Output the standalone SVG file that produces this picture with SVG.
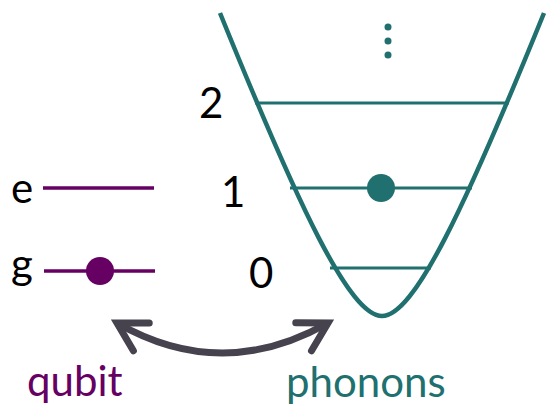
<svg xmlns="http://www.w3.org/2000/svg" width="546" height="405" viewBox="0 0 546 405">
<style>
text{font-family:Lato,"Open Sans","DejaVu Sans",sans-serif;font-size:42px}
.blk{fill:#000}
.pur{fill:#660062}
.tea{fill:#20706F}
.ql{stroke:#660062;stroke-width:3.5;fill:none}
.lv{stroke:#20706F;stroke-width:3;fill:none}
</style>
<defs>
<marker id="chev" markerUnits="userSpaceOnUse" markerWidth="60" markerHeight="60" viewBox="-40 -30 60 60" refX="0" refY="0" orient="auto-start-reverse" overflow="visible">
<path d="M-28,-16 L0,0 L-28,16" fill="none" stroke="#46434F" stroke-width="7" stroke-linecap="round" stroke-linejoin="miter"/>
</marker>
</defs>
<g id="qubit">
<text class="blk" x="11" y="203">e</text>
<line class="ql" x1="43" y1="188" x2="154" y2="188"/>
<text class="blk" x="11" y="279">g</text>
<line class="ql" x1="44" y1="271" x2="155" y2="271"/>
<circle cx="100" cy="271" r="14" fill="#660062"/>
<text class="pur" x="27" y="396">qubit</text>
</g>
<g id="phonons">
<path d="M220,13 C300,210 350,316 382,316 C414,316 464,210 544,13" fill="none" stroke="#20706F" stroke-width="4.5"/>
<line class="lv" x1="255" y1="103" x2="509" y2="103"/>
<line class="lv" x1="290" y1="188" x2="472" y2="188"/>
<line class="lv" x1="330" y1="268" x2="431" y2="268"/>
<circle cx="381" cy="188" r="14" fill="#20706F"/>
<circle cx="388" cy="27" r="3.5" fill="#20706F"/>
<circle cx="388" cy="41" r="3.5" fill="#20706F"/>
<circle cx="388" cy="55" r="3.5" fill="#20706F"/>
<text class="blk" x="199" y="118">2</text>
<text class="blk" x="221" y="207">1</text>
<text class="blk" x="249" y="288">0</text>
<text class="tea" x="286" y="397">phonons</text>
</g>
<g id="connectors">
<path d="M117,323 Q222,383 328,323" fill="none" stroke="#46434F" stroke-width="7" marker-start="url(#chev)" marker-end="url(#chev)"/>
</g>
</svg>
